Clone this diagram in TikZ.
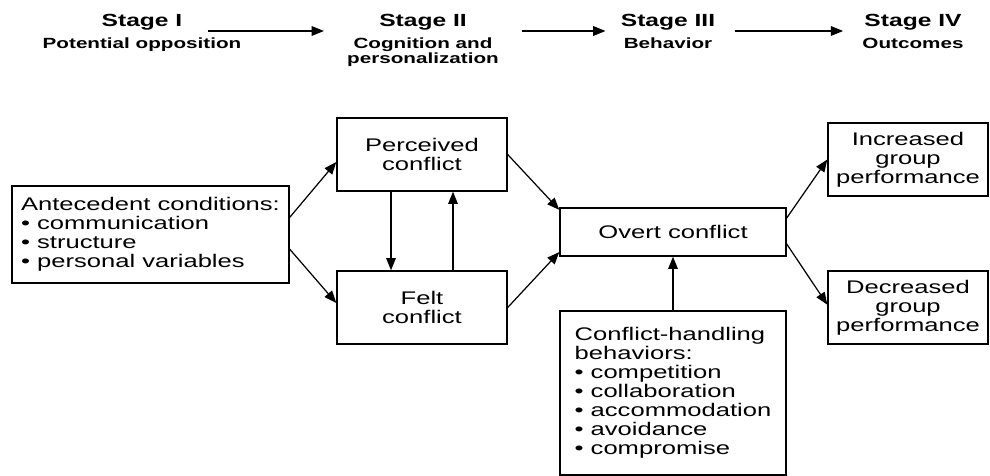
\documentclass[tikz,border=0pt]{standalone}
\usepackage{fontspec}
\setmainfont{Liberation Sans}[FakeStretch=1.4]
\usetikzlibrary{arrows.meta,positioning}

\begin{document}
\begin{tikzpicture}[x=0.02cm, y=-0.02cm,
	box/.style={draw, line width=0.8pt, inner sep=0pt, align=center, font=\fontsize{10.4}{10.8}\selectfont},
	stagetitle/.style={anchor=base, inner sep=0pt, font=\fontsize{10}{10}\selectfont\bfseries},
	stagesub/.style={inner sep=0pt, align=center, font=\fontsize{8.4}{8.6}\selectfont\bfseries},
	link/.style={-{Triangle[length=7pt,width=5.5pt]}, line width=0.7pt}]
	\useasboundingbox (0,0) rectangle (990,476);
	% Define the stages
	\foreach \n/\x/\s in {1/142/I,2/423/II,3/668/III,4/913/IV}
		\node[stagetitle] (t\n) at (\x,27) {Stage \s};
	\node[stagesub, below=0.44cm of t1.base, anchor=base] (sub1) {Potential opposition};
	% base of a two-line node sits on its last line
	\node[stagesub, below=0.74cm of t2.base, anchor=base] (sub2) {Cognition and\\personalization};
	\node[stagesub, below=0.44cm of t3.base, anchor=base] (sub3) {Behavior};
	\node[stagesub, below=0.44cm of t4.base, anchor=base] (sub4) {Outcomes};
	\draw[link] ([xshift=0.5cm,yshift=-0.08cm]t1.base east) -- ([xshift=-1.1cm,yshift=-0.08cm]t2.base west);
	\draw[link] ([xshift=1.1cm,yshift=-0.08cm]t2.base east) -- ([xshift=-0.3cm,yshift=-0.08cm]t3.base west);
	\draw[link] ([xshift=0.38cm,yshift=-0.08cm]t3.base east) -- ([xshift=-0.42cm,yshift=-0.08cm]t4.base west);
	% Create boxes
	\node[box, align=left, minimum width=5.54cm, minimum height=1.94cm] (ante) at (150.5,234.5)
		{Antecedent conditions:\\• communication\\• structure\\• personal variables};
	\node[box, minimum width=3.4cm, minimum height=1.46cm] (perc) at (422,154.5) {Perceived\\conflict};
	\node[box, minimum width=3.4cm, minimum height=1.46cm] (felt) at (422,307.5) {Felt\\conflict};
	\node[box, minimum width=4.52cm, minimum height=0.96cm] (overt) at (673,232) {Overt conflict};
	\node[box, align=left, minimum width=4.52cm, minimum height=3.28cm] (handle) at (673,393)
		{Conflict-handling\\behaviors:\\• competition\\• collaboration\\• accommodation\\• avoidance\\• compromise};
	\node[box, minimum width=3.2cm, minimum height=1.46cm] (incr) at (908,159.5) {Increased\\group\\performance};
	\node[box, minimum width=3.2cm, minimum height=1.46cm] (decr) at (908,307.5) {Decreased\\group\\performance};
	% Connect them
	\draw[link] (ante.7) -- (perc.185);
	\draw[link] (ante.-6) -- (felt.177);
	\draw[link] ([xshift=-0.62cm]perc.south) -- ([xshift=-0.62cm]felt.north);
	\draw[link] ([xshift=0.62cm]felt.north) -- ([xshift=0.62cm]perc.south);
	\draw[link] (perc.east) -- (overt.169);
	\draw[link] (felt.east) -- (overt.190);
	\draw[link] (handle.north) -- (overt.south);
	\draw[link] (overt.7) -- (incr.west);
	\draw[link] (overt.-6) -- (decr.178);
\end{tikzpicture}
\end{document}
